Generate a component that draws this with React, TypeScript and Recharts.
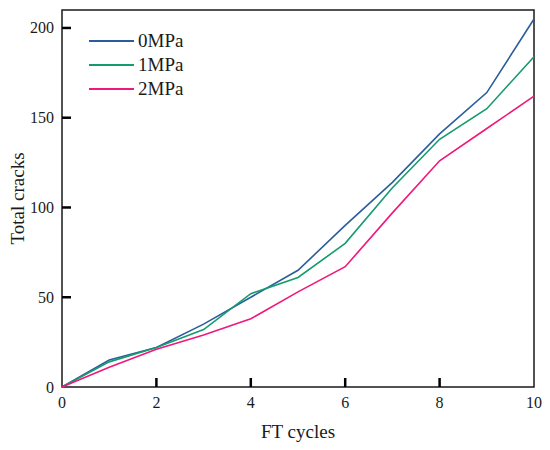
import { LineChart, Line, XAxis, YAxis, ReferenceArea } from 'recharts';

const cycles = [0, 1, 2, 3, 4, 5, 6, 7, 8, 9, 10];
const mpa0 = [0, 15, 22, 35, 50, 65, 90, 114, 141, 164, 205];
const mpa1 = [0, 14, 22, 32, 52, 61, 80, 111, 138, 155, 184];
const mpa2 = [0, 11, 21, 29, 38, 53, 67, 97, 126, 144, 162];

const xTicks = [0, 2, 4, 6, 8, 10];
const yTicks = [0, 50, 100, 150, 200];

const series = [
  { key: 'p0', name: '0MPa', color: '#2b5d9c' },
  { key: 'p1', name: '1MPa', color: '#159b6d' },
  { key: 'p2', name: '2MPa', color: '#f0187b' },
];

const data = cycles.map((c, i) => ({ c, p0: mpa0[i], p1: mpa1[i], p2: mpa2[i] }));

const FONT = 'Liberation Serif';
const INK = '#1a1a1a';
const TICK_LEN = 9;

// labels below the axis, tick marks pointing into the plot
const XTick = ({ x, y, payload }: any) => (
  <g>
    {payload.value > 0 && payload.value < 10 && (
      <path d={`M${x},${y}V${y - TICK_LEN}`} stroke="#000" strokeWidth={2.5} fill="none" />
    )}
    <text x={x} y={y + 21} textAnchor="middle" fontFamily={FONT} fontSize={16} fill={INK}>
      {payload.value}
    </text>
  </g>
);

const YTick = ({ x, y, payload }: any) => (
  <g>
    {payload.value > 0 && (
      <path d={`M${x},${y}H${x + TICK_LEN}`} stroke="#000" strokeWidth={2.5} fill="none" />
    )}
    <text x={x - 8} y={y + 5.5} textAnchor="end" fontFamily={FONT} fontSize={16} fill={INK}>
      {payload.value}
    </text>
  </g>
);

export default function App() {
  return (
    <div style={{ position: 'absolute', left: 0, top: 0, width: 550, height: 450, background: '#fff' }}>
      <LineChart width={550} height={450} data={data} margin={{ top: 10, right: 16, bottom: 0, left: 0 }}>
        <XAxis
          dataKey="c"
          type="number"
          domain={[0, 10]}
          ticks={xTicks}
          tickSize={0}
          tickMargin={0}
          tickLine={false}
          tick={<XTick />}
          height={63}
          axisLine={false}
          label={({ viewBox }: any) => (
            <text x={viewBox.x + viewBox.width / 2} y={viewBox.y + 51} textAnchor="middle" fontFamily={FONT} fontSize={19} fill={INK}>
              FT cycles
            </text>
          )}
        />
        <YAxis
          type="number"
          domain={[0, 210]}
          ticks={yTicks}
          tickSize={0}
          tickMargin={0}
          tickLine={false}
          tick={<YTick />}
          width={62}
          axisLine={false}
          label={({ viewBox }: any) => {
            const cx = viewBox.x + 24;
            const cy = viewBox.y + viewBox.height / 2;
            return (
              <text x={cx} y={cy} transform={`rotate(-90 ${cx} ${cy})`} textAnchor="middle" fontFamily={FONT} fontSize={19} fill={INK}>
                Total cracks
              </text>
            );
          }}
        />
        {/* box frame round the plot */}
        <ReferenceArea x1={0} x2={10} y1={0} y2={210} fill="none" stroke={INK} strokeWidth={1.5} ifOverflow="visible" />
        {series.map((s) => (
          <Line
            key={s.key}
            dataKey={s.key}
            name={s.name}
            type="linear"
            stroke={s.color}
            strokeWidth={1.6}
            dot={false}
            activeDot={false}
            isAnimationActive={false}
          />
        ))}
      </LineChart>
      <div style={{ position: 'absolute', left: 89, top: 29, fontFamily: FONT, fontSize: 19, color: INK }}>
        {series.map((s) => (
          <div key={s.key} style={{ display: 'flex', alignItems: 'center', height: 24 }}>
            <span style={{ display: 'inline-block', width: 45, height: 2, background: s.color, marginRight: 4 }} />
            <span>{s.name}</span>
          </div>
        ))}
      </div>
    </div>
  );
}
